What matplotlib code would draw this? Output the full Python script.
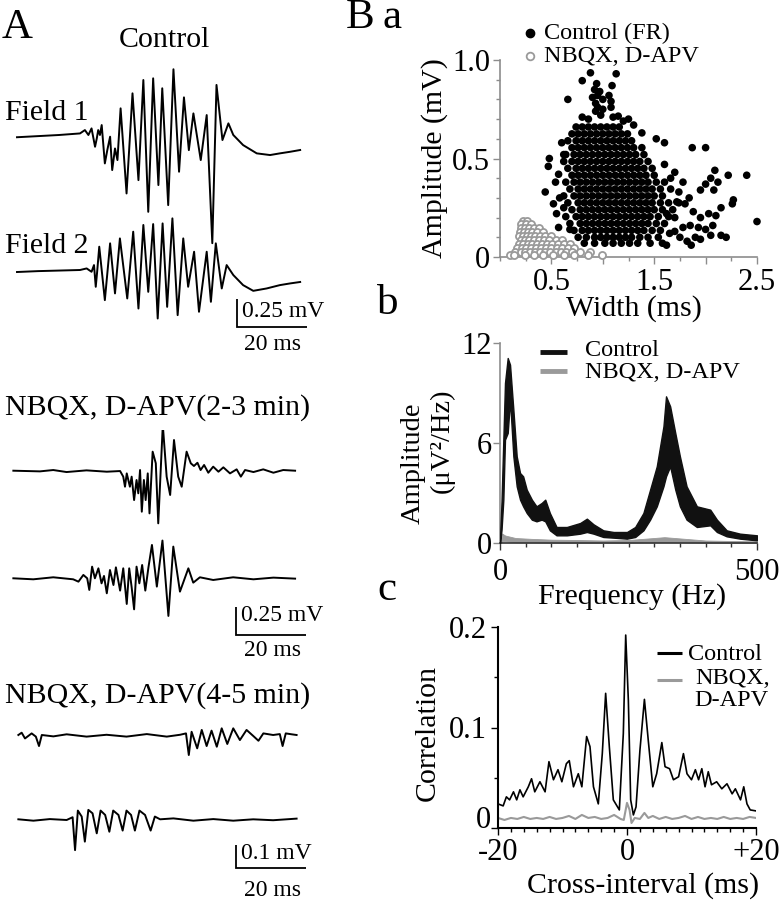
import matplotlib
matplotlib.use("Agg")
import matplotlib.pyplot as plt
from matplotlib.lines import Line2D
from matplotlib.ticker import FixedLocator, MultipleLocator
from matplotlib.transforms import offset_copy

plt.rcParams['font.family'] = ['Liberation Serif', 'DejaVu Serif']

# ---------------- data: panel A traces (time ms, voltage mV) ----------------
f1_t = [0, 6, 12, 18.0, 19.4, 20.4, 21.3, 22.3, 22.8, 23.2, 23.7, 24.2, 25.1, 25.8, 26.6, 27.2, 28.0, 28.7, 29.6,
        31.3, 33.0, 34.7, 36.1, 37.5, 38.9, 40.4, 41.5, 43.2, 44.7, 46.3, 47.7, 49.1, 50.4, 52.5, 54.2, 55.8, 57.0,
        58.7, 60.4, 61.8, 64.6, 68.5, 72.3, 75.1, 78.0, 80.9]
f1_v = [-0.02, -0.01, 0.0, 0.014, 0.044, 0.0, 0.059, -0.105, -0.03, 0.044, 0.0, 0.089, -0.254, -0.135, -0.015,
        -0.313, -0.12, -0.224, 0.238, -0.522, 0.372, -0.403, 0.491, -0.686, 0.506, -0.447, 0.417, -0.626, 0.587,
        -0.328, 0.336, -0.135, 0.193, -0.224, 0.178, -0.966, 0.447, -0.045, 0.104, 0.0, -0.09, -0.164, -0.179,
        -0.164, -0.15, -0.134]
f2_t = [0, 6, 12, 18.0, 19.9, 21.3, 22.0, 22.5, 22.9, 23.5, 25.1, 26.6, 28.0, 29.4, 31.5, 33.2, 34.7, 36.1, 37.5,
        38.9, 40.2, 41.6, 42.9, 44.4, 45.9, 47.5, 48.9, 50.6, 52.0, 54.2, 55.4, 56.8, 58.5, 59.9, 61.8, 64.6, 67.5,
        71.3, 75.1, 78.0, 80.9]
f2_v = [-0.018, -0.01, -0.005, 0.0, 0.014, -0.016, 0.044, -0.15, -0.016, 0.208, -0.269, 0.238, -0.209, 0.282,
        -0.254, 0.342, -0.344, 0.402, -0.195, 0.410, -0.433, 0.416, -0.329, 0.461, -0.403, 0.282, -0.150, 0.163,
        -0.373, 0.163, -0.284, 0.238, -0.165, 0.044, -0.045, -0.135, -0.186, -0.165, -0.135, -0.12, -0.107]
n2a_t = [0.1, 7.7, 11.5, 15.3, 21.0, 26.8, 30.6, 31.5, 32.0, 32.5, 33.4, 33.9, 34.6, 35.3, 35.8, 36.3, 36.8, 37.4,
         37.9, 38.5, 39.0, 39.9, 40.8, 41.5, 42.8, 43.9, 44.9, 46.0, 47.2, 48.2, 49.6, 50.8, 51.7, 52.7, 53.6, 54.6,
         55.8, 57.2, 58.7, 60.1, 62.0, 63.9, 65.1, 66.3, 68.7, 71.5, 74.4, 77.2, 80.6]
n2a_v = [0.0, -0.006, 0.006, -0.012, 0.003, -0.009, -0.003, -0.053, -0.143, -0.024, -0.143, -0.053, -0.262, -0.083,
         -0.202, 0.006, -0.366, -0.083, -0.262, -0.024, -0.381, 0.170, 0.066, -0.470, 0.408, -0.053, -0.217, 0.274,
         -0.053, -0.143, 0.170, 0.066, 0.042, 0.071, 0.006, 0.051, -0.018, 0.036, -0.009, 0.030, -0.024, 0.012,
         -0.053, 0.006, -0.012, 0.012, -0.018, 0.006, 0.0]
n2b_t = [0.1, 5.8, 11.5, 17.2, 18.7, 20.1, 21.2, 21.8, 22.6, 23.4, 24.4, 25.3, 26.0, 26.8, 27.7, 28.7, 29.4, 30.6,
         31.5, 32.5, 33.2, 33.9, 34.6, 35.3, 36.1, 36.9, 37.8, 38.7, 39.7, 41.1, 42.7, 44.4, 45.8, 47.7, 50.1, 51.5,
         53.4, 57.2, 62.9, 68.7, 74.4, 80.6]
n2b_v = [0.0, -0.009, 0.009, -0.009, -0.03, 0.030, 0.0, -0.104, 0.104, 0.0, 0.089, -0.045, 0.021, -0.134, 0.074,
         -0.060, 0.098, -0.110, 0.089, -0.229, 0.089, -0.080, -0.277, 0.104, -0.045, 0.119, -0.110, 0.098, 0.298,
         -0.074, 0.337, -0.336, 0.283, -0.119, 0.089, -0.039, 0.009, -0.015, 0.009, -0.009, 0.006, -0.003]
n3a_t = [0.1, 1.05, 2.0, 3.9, 5.1, 6.0, 6.8, 10.1, 13.9, 19.6, 25.3, 31.0, 36.8, 42.5, 46.3, 48.0, 48.8, 49.6, 51.2,
         52.5, 53.9, 55.3, 56.8, 58.2, 59.8, 61.5, 63.4, 65.3, 67.2, 68.7, 70.1, 72.9, 74.8, 75.6, 76.5, 78.2, 79.6]
n3a_v = [0.0, 0.010, -0.015, 0.007, -0.007, -0.048, 0.0, -0.006, 0.003, -0.007, 0.001, -0.007, 0.004, -0.007, 0.001,
         0.007, -0.087, 0.014, -0.058, 0.022, -0.048, 0.019, -0.051, 0.029, -0.039, 0.029, -0.022, 0.022, -0.004,
         -0.025, 0.007, 0.0, 0.004, -0.048, 0.007, 0.003, 0.0]
n3b_t = [0.1, 4.4, 9.1, 13.9, 15.6, 16.3, 17.1, 18.2, 19.1, 20.1, 21.3, 22.5, 23.6, 24.9, 26.1, 27.2, 28.7, 29.9,
         31.0, 32.3, 33.4, 34.7, 36.3, 37.9, 39.1, 40.6, 44.4, 50.1, 55.8, 61.5, 67.2, 72.9, 79.6]
n3b_v = [0.003, -0.003, 0.004, 0.0, 0.012, -0.131, 0.041, 0.015, -0.094, 0.044, 0.029, -0.058, 0.041, 0.022, -0.051,
         0.041, 0.022, -0.046, 0.041, 0.022, -0.046, 0.041, 0.022, -0.046, 0.015, 0.003, 0.007, -0.003, 0.004,
         -0.003, 0.003, -0.001, 0.006]

# ---------------- data: panel Ba scatter (width ms, amplitude mV) ----------------
ctrl_row_amp = [0.66, 0.625, 0.59, 0.555, 0.52, 0.485, 0.45, 0.415, 0.38, 0.345, 0.31, 0.275, 0.24, 0.205, 0.17,
                0.135, 0.10, 0.07]
ctrl_row_width = [
    [0.74, 0.80, 0.86, 0.92, 0.98, 1.04, 1.10, 1.16],
    [0.70, 0.76, 0.82, 0.88, 0.94, 1.00, 1.06, 1.12, 1.18, 1.24],
    [0.66, 0.74, 0.80, 0.86, 0.92, 0.98, 1.04, 1.10, 1.16, 1.22, 1.28],
    [0.70, 0.76, 0.82, 0.88, 0.94, 1.00, 1.06, 1.12, 1.18, 1.24, 1.30, 1.38],
    [0.64, 0.72, 0.78, 0.84, 0.90, 0.96, 1.02, 1.08, 1.14, 1.20, 1.26, 1.32, 1.40],
    [0.62, 0.70, 0.76, 0.82, 0.88, 0.94, 1.00, 1.06, 1.12, 1.18, 1.24, 1.30, 1.36, 1.44],
    [0.66, 0.74, 0.80, 0.86, 0.92, 0.98, 1.04, 1.10, 1.16, 1.22, 1.28, 1.34, 1.40, 1.48],
    [0.70, 0.76, 0.82, 0.88, 0.94, 1.00, 1.06, 1.12, 1.18, 1.24, 1.30, 1.36, 1.42, 1.50],
    [0.64, 0.72, 0.78, 0.84, 0.90, 0.96, 1.02, 1.08, 1.14, 1.20, 1.26, 1.32, 1.38, 1.44, 1.52, 1.60],
    [0.68, 0.76, 0.82, 0.88, 0.94, 1.00, 1.06, 1.12, 1.18, 1.24, 1.30, 1.36, 1.42, 1.48, 1.56, 1.66],
    [0.62, 0.72, 0.78, 0.84, 0.90, 0.96, 1.02, 1.08, 1.14, 1.20, 1.26, 1.32, 1.38, 1.44, 1.50, 1.58],
    [0.66, 0.76, 0.82, 0.88, 0.94, 1.00, 1.06, 1.12, 1.18, 1.24, 1.30, 1.36, 1.42, 1.48, 1.56, 1.64, 1.74],
    [0.70, 0.78, 0.84, 0.90, 0.96, 1.02, 1.08, 1.14, 1.20, 1.26, 1.32, 1.38, 1.44, 1.50, 1.58, 1.68],
    [0.64, 0.74, 0.80, 0.86, 0.92, 0.98, 1.04, 1.10, 1.16, 1.22, 1.28, 1.34, 1.40, 1.46, 1.54, 1.64],
    [0.68, 0.78, 0.84, 0.90, 0.96, 1.02, 1.08, 1.14, 1.20, 1.26, 1.32, 1.38, 1.44, 1.52, 1.60],
    [0.72, 0.80, 0.86, 0.92, 0.98, 1.04, 1.10, 1.16, 1.22, 1.28, 1.34, 1.40, 1.48, 1.56],
    [0.76, 0.84, 0.92, 0.98, 1.04, 1.10, 1.16, 1.22, 1.28, 1.36, 1.44, 1.54],
    [0.82, 0.92, 1.02, 1.10, 1.18, 1.26, 1.34, 1.46, 1.58],
]
ctrl_extra_w = [0.88, 1.13, 0.80, 0.94, 1.09, 0.92, 0.97, 0.95, 0.90, 1.00, 1.06, 1.08, 0.93, 0.95, 1.00, 1.08,
                0.93, 0.98, 1.10, 0.86, 0.80, 1.20, 0.66,
                1.15, 1.25, 1.30, 1.38, 1.52, 1.60, 1.87, 2.00, 2.40, 2.22, 2.09, 2.05, 2.12, 2.00, 1.95, 2.08,
                2.27, 2.26, 2.50, 2.15, 2.10, 2.03, 1.95, 1.88, 1.80, 1.72, 1.85, 1.78, 1.70, 1.93, 2.00, 2.07,
                2.15, 2.20, 2.05, 1.90, 1.82, 1.86, 1.95, 1.75, 1.65, 1.62, 1.70, 1.62, 1.66, 1.70, 1.78, 1.74,
                1.84, 1.60,
                0.48, 0.47, 0.44, 0.57, 0.54, 0.58, 0.57, 0.68, 0.52, 0.62, 0.55, 0.60, 0.62]
ctrl_extra_a = [0.935, 0.93, 0.895, 0.88, 0.87, 0.85, 0.84, 0.82, 0.81, 0.80, 0.82, 0.79, 0.78, 0.76, 0.75, 0.76,
                0.74, 0.72, 0.71, 0.70, 0.71, 0.69, 0.80,
                0.715, 0.70, 0.67, 0.63, 0.60, 0.58, 0.555, 0.555, 0.415, 0.415, 0.44, 0.40, 0.38, 0.37, 0.34,
                0.34, 0.29, 0.27, 0.18, 0.25, 0.21, 0.22, 0.20, 0.23, 0.27, 0.28, 0.16, 0.15, 0.13, 0.15, 0.14,
                0.16, 0.11, 0.10, 0.11, 0.10, 0.08, 0.06, 0.09, 0.10, 0.12, 0.06, 0.20, 0.22, 0.40, 0.43, 0.38,
                0.33, 0.30, 0.47,
                0.50, 0.46, 0.33, 0.42, 0.38, 0.30, 0.15, 0.14, 0.27, 0.25, 0.22, 0.58, 0.52]
nbqx_row_amp = [0.185, 0.165, 0.145, 0.125, 0.105, 0.085, 0.065, 0.045, 0.025, 0.008]
nbqx_row_width = [
    [0.22, 0.26],
    [0.20, 0.25, 0.30],
    [0.20, 0.24, 0.28, 0.33, 0.38],
    [0.19, 0.23, 0.27, 0.31, 0.36, 0.42],
    [0.18, 0.22, 0.26, 0.30, 0.34, 0.39, 0.44, 0.50],
    [0.20, 0.24, 0.28, 0.33, 0.38, 0.43, 0.48, 0.54, 0.60],
    [0.18, 0.22, 0.27, 0.31, 0.36, 0.41, 0.46, 0.51, 0.56, 0.62, 0.68],
    [0.17, 0.21, 0.25, 0.30, 0.35, 0.40, 0.45, 0.50, 0.55, 0.60, 0.66, 0.72],
    [0.15, 0.20, 0.24, 0.29, 0.34, 0.39, 0.44, 0.49, 0.54, 0.59, 0.64, 0.70, 0.78, 0.88],
    [0.10, 0.14, 0.24, 0.33, 0.42, 0.52, 0.62, 0.72, 0.86, 0.99],
]

# ---------------- data: panel Bb spectrum ----------------
freq = [0, 3, 6.5, 9.7, 15, 19.5, 26, 32.5, 39, 45, 52, 62, 71, 81, 88, 97, 110, 130, 156, 169,
        182, 201, 221, 247, 263, 279, 292, 305, 318, 323, 331, 341, 350, 363, 383, 409, 422, 441, 467, 500]
ctrl_hi = [0.3, 2.5, 6.2, 9.6, 11.1, 10.7, 8.0, 5.2, 4.2, 4.0, 3.2, 2.6, 2.2, 2.4, 2.6, 1.8, 0.96, 0.96, 1.2, 1.46,
           1.12, 0.76, 0.66, 0.66, 0.96, 1.8, 3.2, 4.6, 7.0, 8.8, 8.2, 6.6, 5.2, 3.4, 2.2, 2.0, 1.4, 0.76, 0.56, 0.46]
ctrl_lo = [0.0, 0.8, 2.6, 6.2, 6.6, 8.6, 5.2, 3.4, 2.6, 2.2, 1.8, 1.4, 1.3, 1.4, 1.3, 0.76, 0.46, 0.46, 0.56, 0.66,
           0.56, 0.36, 0.32, 0.26, 0.36, 0.76, 1.4, 2.2, 3.4, 4.0, 4.6, 3.2, 2.2, 1.4, 0.96, 1.06, 0.66, 0.40, 0.26, 0.16]
nbqx_freq = [0, 5, 10, 30, 60, 100, 150, 200, 250, 300, 320, 340, 400, 450, 500]
nbqx_hi = [0.6, 0.55, 0.45, 0.3, 0.25, 0.2, 0.18, 0.15, 0.18, 0.3, 0.35, 0.3, 0.15, 0.12, 0.1]
nbqx_lo = [0.0, 0.1, 0.1, 0.05, 0.04, 0.02, 0.02, 0.02, 0.02, 0.05, 0.06, 0.05, 0.02, 0.01, 0.0]

# ---------------- data: panel Bc cross-correlation ----------------
lag_ctrl = [-20.0, -19.2, -18.7, -18.2, -17.6, -17.1, -16.6, -16.1, -15.3, -14.8, -14.3, -13.5, -12.7, -12.1, -11.4,
            -10.7, -10.1, -9.4, -8.95, -8.3, -7.55, -7.0, -6.26, -5.74, -5.2, -4.45, -3.83, -3.31, -2.74, -2.12,
            -1.19, -0.57, -0.2, 0.21, 0.57, 0.99, 1.4, 2.0, 2.7, 3.3, 4.0, 4.6, 5.4, 5.9, 6.6, 7.2, 8.0, 8.75, 9.3,
            10.0, 10.6, 11.1, 11.6, 12.1, 12.6, 13.1, 13.9, 14.7, 15.5, 16.3, 16.8, 17.6, 18.1, 18.6, 19.1, 20.0]
corr_ctrl = [0.024, 0.022, 0.031, 0.028, 0.036, 0.028, 0.038, 0.031, 0.041, 0.049, 0.036, 0.046, 0.036, 0.066,
             0.048, 0.058, 0.046, 0.064, 0.067, 0.041, 0.054, 0.041, 0.091, 0.081, 0.041, 0.024, 0.074, 0.134,
             0.081, 0.028, 0.018, 0.094, 0.192, 0.127, 0.028, 0.013, 0.021, 0.077, 0.128, 0.087, 0.041, 0.054,
             0.085, 0.061, 0.059, 0.048, 0.051, 0.074, 0.054, 0.048, 0.058, 0.048, 0.059, 0.041, 0.056, 0.043,
             0.046, 0.039, 0.044, 0.034, 0.039, 0.028, 0.041, 0.024, 0.018, 0.017]
lag_nbqx = [-20, -19, -18, -17, -16, -15, -14, -13, -12, -11, -10, -9, -8, -7, -6, -5, -4, -3, -2, -1, -0.5, 0, 0.4,
            0.7, 1.2, 2, 2.7, 3.3, 4, 5, 6, 7, 8, 9, 10, 11, 12, 13, 14, 15, 16, 17, 18, 19, 20]
corr_nbqx = [0.010, 0.008, 0.010, 0.009, 0.011, 0.009, 0.010, 0.009, 0.011, 0.009, 0.010, 0.012, 0.009, 0.013,
             0.010, 0.011, 0.009, 0.010, 0.013, 0.009, 0.008, 0.025, 0.018, 0.005, 0.010, 0.009, 0.015, 0.010,
             0.012, 0.009, 0.011, 0.009, 0.010, 0.012, 0.009, 0.011, 0.009, 0.010, 0.009, 0.011, 0.009, 0.010,
             0.009, 0.011, 0.010]

# ---------------- figure ----------------
W, H = 781, 900
fig = plt.figure(figsize=(W / 100, H / 100), dpi=100)
fig.patch.set_facecolor('white')


def ax_px(l, t, r, b):
    return fig.add_axes([l / W, 1 - b / H, (r - l) / W, (b - t) / H])


def ftext(x, y, s, size, **kw):
    kw.setdefault('va', 'baseline')
    fig.text(x / W, 1 - y / H, s, fontsize=size, **kw)


def fline(xs, ys, **kw):
    fig.add_artist(Line2D([x / W for x in xs], [1 - y / H for y in ys], transform=fig.transFigure, **kw))


MS_PER_PX = 20 / 70.0
TR_LW = 1.4


def trace_axes(top, bottom, x0px, base_px, mvpp):
    ax = ax_px(0, top, 310, bottom)
    ax.set_xlim(-x0px * MS_PER_PX, (310 - x0px) * MS_PER_PX)
    ax.set_ylim(-(bottom - base_px) * mvpp, (base_px - top) * mvpp)
    ax.axis('off')
    return ax


def scalebar(ax, xpx, ypx, x0px, base_px, mvpp, mv):
    xs = (xpx - x0px) * MS_PER_PX
    yb = -(ypx - base_px) * mvpp
    ax.plot([xs, xs, xs + 20], [yb + mv, yb, yb], color='k', lw=1.3, clip_on=False,
            solid_joinstyle='miter', solid_capstyle='butt')


# group 1 (control)
m1 = 0.25 / 28
g1 = trace_axes(40, 340, 17, 135, m1)
g1.plot(f1_t, f1_v, color='k', lw=TR_LW, solid_joinstyle='round')
off2 = -(270 - 135) * m1
g1.plot(f2_t, [v + off2 for v in f2_v], color='k', lw=TR_LW, solid_joinstyle='round')
scalebar(g1, 237, 327, 17, 135, m1, 0.25)

# group 2 (2-3 min)
g2 = trace_axes(430, 640, 13, 470.7, m1)
g2.plot(n2a_t, n2a_v, color='k', lw=TR_LW, solid_joinstyle='round')
offb = -(578.3 - 470.7) * m1
g2.plot(n2b_t, [v + offb for v in n2b_v], color='k', lw=TR_LW, solid_joinstyle='round')
scalebar(g2, 236, 635, 13, 470.7, m1, 0.25)

# group 3 (4-5 min)
m3 = 0.1 / 23
g3 = trace_axes(690, 900, 18, 735, m3)
g3.plot(n3a_t, n3a_v, color='k', lw=TR_LW, solid_joinstyle='round')
off3 = -(820 - 735) * m3
g3.plot(n3b_t, [v + off3 for v in n3b_v], color='k', lw=TR_LW, solid_joinstyle='round')
scalebar(g3, 236, 868, 18, 735, m3, 0.1)

# panel A texts
ftext(2, 38, 'A', 31)
ftext(164, 47, 'Control', 21.5, ha='center')
ftext(5, 120, 'Field 1', 21.5)
ftext(5, 253, 'Field 2', 21.5)
ftext(242, 317, '0.25 mV', 17)
ftext(272, 350, '20 ms', 17, ha='center')
ftext(5, 415, 'NBQX, D-APV(2-3 min)', 21.5)
ftext(241, 621, '0.25 mV', 17)
ftext(272, 656, '20 ms', 17, ha='center')
ftext(5, 703, 'NBQX, D-APV(4-5 min)', 21.5)
ftext(241, 859, '0.1 mV', 17)
ftext(272, 896, '20 ms', 17, ha='center')


def style(ax, cleft, cbottom, lw=1.2):
    for s in ('top', 'right'):
        ax.spines[s].set_visible(False)
    ax.spines['left'].set_color(cleft)
    ax.spines['bottom'].set_color(cbottom)
    ax.spines['left'].set_linewidth(lw)
    ax.spines['bottom'].set_linewidth(lw)
    ax.tick_params(which='both', direction='out', labelsize=22, width=1.0)
    ax.tick_params(which='major', length=5)
    ax.tick_params(which='minor', length=3)
    ax.tick_params(axis='y', which='both', color=cleft)
    ax.tick_params(axis='x', which='both', color=cbottom)
    ax.set_facecolor('none')


# ---------------- panel Ba ----------------
ca_w, ca_a = [], []
for a, ws in zip(ctrl_row_amp, ctrl_row_width):
    for w in ws:
        ca_w.append(w)
        ca_a.append(a)
ca_w += ctrl_extra_w
ca_a += ctrl_extra_a
nb_w, nb_a = [], []
for a, ws in zip(nbqx_row_amp, nbqx_row_width):
    for w in ws:
        nb_w.append(w)
        nb_a.append(a)

GRAY = '#9a9a9a'
axa = ax_px(500, 60, 757, 257)
axa.set_xlim(0, 2.5)
axa.set_ylim(0, 1.0)
style(axa, '#8c8c8c', '#8c8c8c')
axa.scatter(ca_w, ca_a, s=30, c='black', edgecolors='none', clip_on=False, zorder=3)
axa.scatter(nb_w, nb_a, s=26, facecolors='white', edgecolors=GRAY, linewidths=1.3, clip_on=False, zorder=4)
axa.yaxis.set_major_locator(FixedLocator([0, 0.5, 1.0]))
axa.set_yticklabels(['0', '0.5', '1.0'])
axa.yaxis.set_minor_locator(MultipleLocator(0.1))
axa.xaxis.set_major_locator(FixedLocator([0.5, 1.0, 1.5, 2.0, 2.5]))
axa.set_xticklabels(['0.5', '', '1.5', '', '2.5'])
axa.xaxis.set_minor_locator(MultipleLocator(0.25))
axa.tick_params(axis='x', pad=3)
axa.tick_params(axis='y', pad=2)

# legend a
fig.add_artist(Line2D([530 / W], [1 - 33 / H], marker='o', markersize=6, color='black', markeredgecolor='black',
                      transform=fig.transFigure, linestyle='none'))
fig.add_artist(Line2D([530 / W], [1 - 56 / H], marker='o', markersize=5.5, markerfacecolor='white',
                      markeredgecolor=GRAY, markeredgewidth=1.3, transform=fig.transFigure, linestyle='none'))
ftext(544, 33, 'Control (FR)', 17.5, va='center')
ftext(544, 56, 'NBQX, D-APV', 17.5, va='center')
ftext(435, 158, 'Amplitude (mV)', 21.5, rotation=90, ha='center', va='center')
ftext(634, 316, 'Width (ms)', 21.5, ha='center')

# ---------------- panel Bb ----------------
axb = ax_px(500, 343, 757, 543)
axb.set_xlim(0, 500)
axb.set_ylim(0, 12)
style(axb, '#8c8c8c', '#333333')
axb.fill_between(nbqx_freq, nbqx_lo, nbqx_hi, color=GRAY, lw=0.6, zorder=2)
axb.fill_between(freq, ctrl_lo, ctrl_hi, color='#111111', lw=1.0, edgecolor='#111111', zorder=3)
axb.yaxis.set_major_locator(FixedLocator([0, 6, 12]))
axb.set_yticklabels(['0', '6', '12'])
axb.xaxis.set_major_locator(FixedLocator([0, 500]))
axb.set_xticklabels(['0', '500'])
axb.xaxis.set_minor_locator(MultipleLocator(50))
axb.tick_params(axis='x', pad=6)
axb.tick_params(axis='y', pad=1)

fline([540, 567], [352, 352], color='#111111', lw=3.5, solid_capstyle='butt')
fline([540, 567], [371, 371], color=GRAY, lw=3.5, solid_capstyle='butt')
ftext(585, 350, 'Control', 17.5, va='center')
ftext(585, 372, 'NBQX, D-APV', 17.5, va='center')
ftext(413, 463, 'Amplitude', 20.5, rotation=90, ha='center', va='center')
ftext(442, 441, '(μV²/Hz)', 20.5, rotation=90, ha='center', va='center')
ftext(632, 604, 'Frequency (Hz)', 21.5, ha='center')

# ---------------- panel Bc ----------------
axc = ax_px(498, 627, 756, 828)
axc.set_xlim(-20, 20)
axc.set_ylim(0, 0.2)
style(axc, 'black', 'black', lw=1.5)
axc.plot(lag_nbqx, corr_nbqx, color=GRAY, lw=1.5, zorder=2)
axc.plot(lag_ctrl, corr_ctrl, color='black', lw=1.2, zorder=3)
axc.yaxis.set_major_locator(FixedLocator([0, 0.1, 0.2]))
axc.set_yticklabels(['', '0.1', '0.2'])
axc.yaxis.set_minor_locator(MultipleLocator(0.05))
axc.xaxis.set_major_locator(FixedLocator([-20, 0, 20]))
axc.set_xticklabels(['-20', '0', '+20'])
axc.xaxis.set_minor_locator(MultipleLocator(2))
axc.tick_params(axis='x', pad=2)
axc.tick_params(axis='y', pad=3)
axc.text(0, 0, '0', fontsize=22, ha='right', va='center',
         transform=offset_copy(axc.get_yaxis_transform(), fig=fig, x=-7, y=7, units='dots'))

fline([657, 682], [653, 653], color='black', lw=2.2, solid_capstyle='butt')
fline([657, 682], [680, 680], color=GRAY, lw=2.2, solid_capstyle='butt')
ftext(688, 654, 'Control', 17.5, va='center')
ftext(695, 679, 'NBQX,', 17.5, va='center')
ftext(694, 701, 'D-APV', 17.5, va='center')
ftext(428, 733, 'Correlation', 21.5, rotation=90, ha='center', va='center')
ftext(643, 893, 'Cross-interval (ms)', 21.5, ha='center')

# panel B letters
ftext(346, 28, 'B', 31)
ftext(382, 28, 'a', 31)
ftext(377, 314, 'b', 31)
ftext(377, 600, 'c', 31)

fig.savefig('out.png', dpi=100, facecolor='white')
